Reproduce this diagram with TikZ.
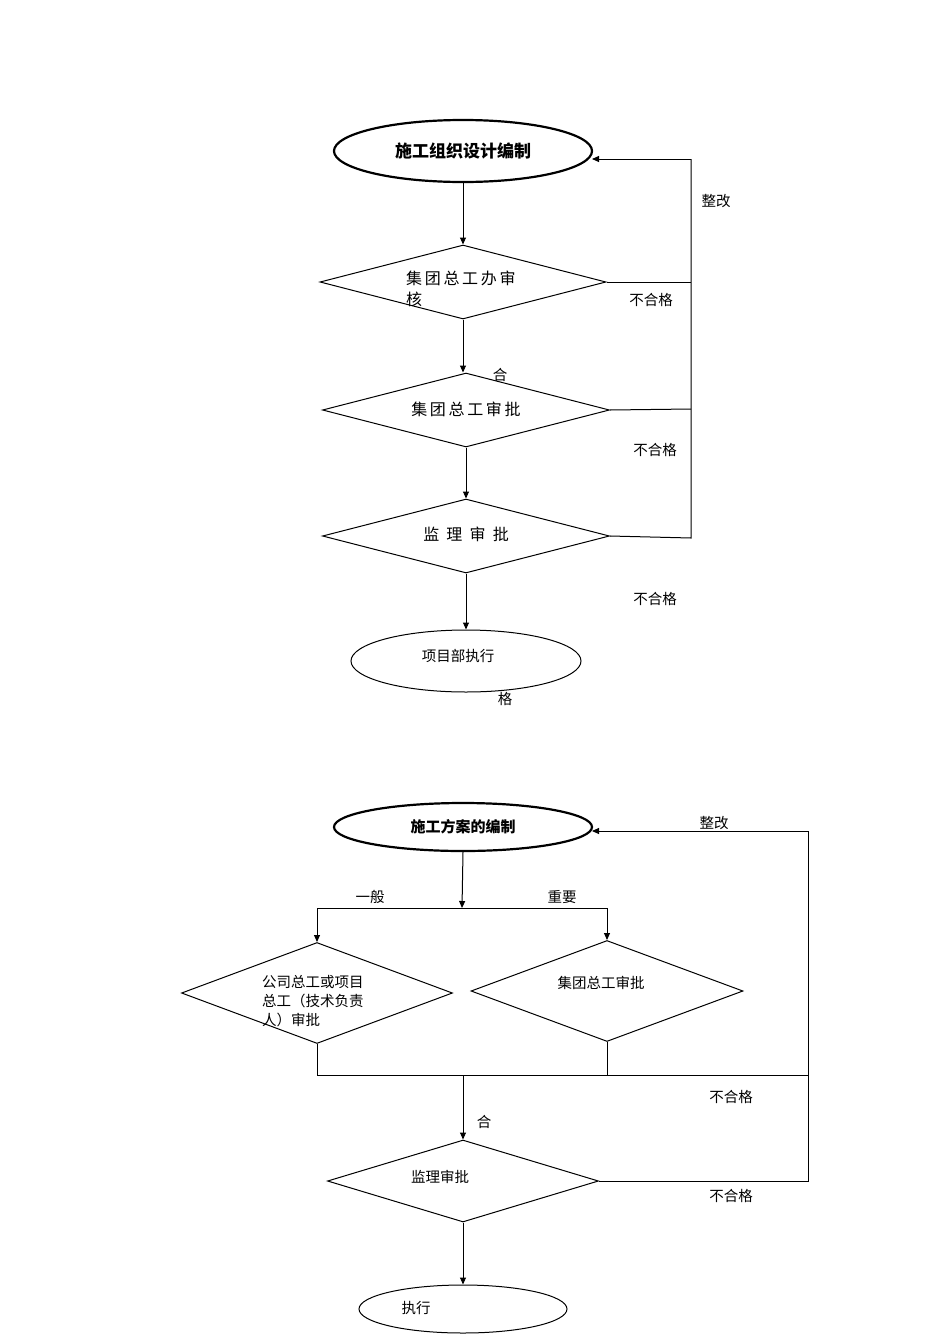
\documentclass[tikz,border=0pt]{standalone}
\usepackage{fontspec}
\setmainfont{Noto Sans CJK SC}
\usetikzlibrary{arrows.meta,shapes.geometric}
\begin{document}
\begin{tikzpicture}[x=1pt,y=-1pt,
  ln/.style={line width=1pt},
  arr/.style={ln,-{Triangle[length=7pt,width=6pt]}},
  lbl/.style={font=\fontsize{14.5}{19}\selectfont,inner sep=0},
  txt/.style={font=\fontsize{16}{21}\selectfont,inner sep=0}]
\useasboundingbox (0,0) rectangle (950,1344);
% ---------- top chart ----------
\node[draw,line width=2.2pt,ellipse,minimum width=258,minimum height=62,font=\bfseries\fontsize{17}{19}\selectfont] (e1) at (463,151) {施工组织设计编制};
\node[draw,ln,diamond,aspect=3.86,minimum width=286,minimum height=74,inner sep=0] (d1) at (463,282) {};
\node[txt,align=left,anchor=north west] (t1) at (406,271) {集\,团\,总\,工\,办\,审\\核};
\node[draw,ln,diamond,minimum width=287,minimum height=74,aspect=3.88,inner sep=0] (d2) at (466,410) {};
\node[txt] (t2) at (466,409) {集\,团\,总\,工\,审\,批};
\node[draw,ln,diamond,minimum width=287,minimum height=74,aspect=3.88,inner sep=0] (d3) at (466,536) {};
\node[txt] (t3) at (466,534) {监 \ 理 \ 审 \ 批};
\node[draw,ln,ellipse,minimum width=230,minimum height=62,inner sep=0] (e2) at (466,661) {};
\node[lbl] (t4) at (458,656) {项目部执行};
\draw[arr] (e1.south) -- (e1.south |- d1.north);
\draw[arr] (d1.south) -- (d1.south |- d2.north);
\draw[arr] (d2.south) -- (d3.north);
\draw[arr] (d3.south) -- (e2.north);
\coordinate (r1) at (691,282);
\coordinate (r2) at (691,409);
\coordinate (r3) at (691,538);
\coordinate (rt) at (691,159);
\coordinate (et) at (592,159);
\draw[ln] (d1.east) -- (r1);
\draw[ln] (d2.east) -- (r2);
\draw[ln] (d3.east) -- (r3) -- (rt);
\draw[arr] (rt) -- (et);
\node[lbl] (l1) at (716,201) {整改};
\node[lbl] (l2) at (651,300) {不合格};
\node[lbl] (l3) at (655,450) {不合格};
\node[lbl] (l4) at (655,599) {不合格};
\node[lbl] (l5) at (500,375) {合};
\node[lbl] (l6) at (505,699) {格};
% ---------- bottom chart ----------
\node[draw,line width=2.2pt,ellipse,minimum width=258,minimum height=48,font=\bfseries\fontsize{15}{17}\selectfont] (e3) at (463,827) {施工方案的编制};
\coordinate (s0) at (462,908);
\coordinate (sl) at (317,908);
\coordinate (sr) at (607,908);
\draw[arr] (e3.south) -- (s0);
\draw[ln] (sl) -- (sr);
\node[draw,ln,diamond,aspect=2.68,minimum width=271,minimum height=101,inner sep=0] (d4) at (317,993) {};
\node[draw,ln,diamond,aspect=2.68,minimum width=272,minimum height=101,inner sep=0] (d5) at (607,991) {};
\draw[arr] (sl) -- (d4.north);
\draw[arr] (sr) -- (d5.north);
\node[lbl] (l7) at (370,897) {一般};
\node[lbl] (l8) at (562,897) {重要};
\node[lbl,align=left,anchor=north west] (t5) at (262,975) {公司总工或项目\\总工（技术负责\\人）审批};
\node[lbl] (t6) at (601,983) {集团总工审批};
\coordinate (m1) at (317,1075);
\coordinate (m2) at (607,1075);
\coordinate (mc) at (463,1075);
\coordinate (mr) at (808,1075);
\draw[ln] (d4.south) -- (m1) -- (mr);
\draw[ln] (d5.south) -- (m2);
\node[draw,ln,diamond,aspect=3.3,minimum width=271,minimum height=82,inner sep=0] (d6) at (463,1181) {};
\node[lbl] (t7) at (440,1177) {监理审批};
\draw[arr] (mc) -- (d6.north);
\node[lbl] (l9) at (484,1122) {合};
\node[draw,ln,ellipse,minimum width=208,minimum height=48,inner sep=0] (e4) at (463,1309) {};
\node[lbl] (t8) at (416,1308) {执行};
\draw[arr] (d6.south) -- (e4.north);
\coordinate (b1) at (808,1181);
\coordinate (bt) at (808,831);
\coordinate (eb) at (592,831);
\draw[ln] (d6.east) -- (b1) -- (bt);
\draw[arr] (bt) -- (eb);
\node[lbl] (l10) at (714,823) {整改};
\node[lbl] (l11) at (731,1097) {不合格};
\node[lbl] (l12) at (731,1196) {不合格};
\end{tikzpicture}
\end{document}
